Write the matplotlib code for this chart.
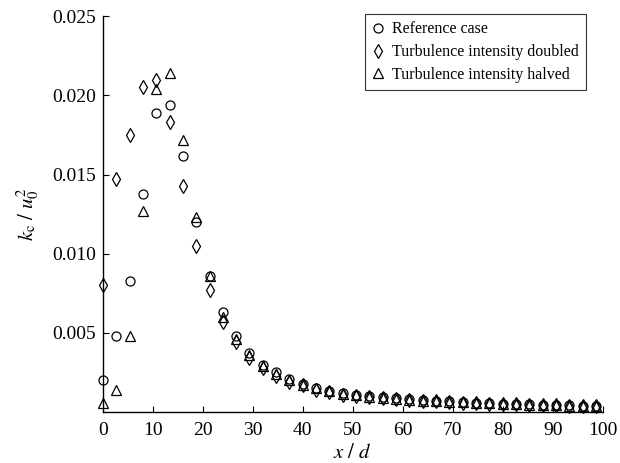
import numpy as np
import matplotlib
matplotlib.use('Agg')
import matplotlib.pyplot as plt

plt.rcParams['font.family'] = ['Liberation Serif', 'DejaVu Serif']
plt.rcParams['mathtext.fontset'] = 'stix'

# streamwise stations, x / d
x_d = [0.0, 2.67, 5.33, 8.0, 10.67, 13.33, 16.0, 18.67, 21.33, 24.0,
       26.67, 29.33, 32.0, 34.67, 37.33, 40.0, 42.67, 45.33, 48.0, 50.67,
       53.33, 56.0, 58.67, 61.33, 64.0, 66.67, 69.33, 72.0, 74.67, 77.33,
       80.0, 82.67, 85.33, 88.0, 90.67, 93.33, 96.0, 98.67]

# centreline turbulent kinetic energy, k_c / u0^2
k_ref = [0.0020, 0.0048, 0.0083, 0.0138, 0.0189, 0.0194, 0.0162, 0.0120, 0.0086, 0.0063,
         0.0048, 0.0037, 0.0030, 0.0025, 0.0021, 0.0018, 0.0015, 0.00135, 0.0012, 0.0011,
         0.00100, 0.00093, 0.00087, 0.00081, 0.00076, 0.00071, 0.00067, 0.00063, 0.00060, 0.00057,
         0.00054, 0.00051, 0.00049, 0.00047, 0.00045, 0.00043, 0.00041, 0.00039]
k_double = [0.0080, 0.0147, 0.0175, 0.0205, 0.0210, 0.0183, 0.0143, 0.0105, 0.0077, 0.0057,
            0.0044, 0.0034, 0.0028, 0.0023, 0.0019, 0.0017, 0.0014, 0.00125, 0.0011, 0.0010,
            0.00093, 0.00087, 0.00081, 0.00076, 0.00071, 0.00067, 0.00063, 0.00059, 0.00056, 0.00053,
            0.00050, 0.00048, 0.00046, 0.00044, 0.00042, 0.00040, 0.00038, 0.00036]
k_half = [0.0006, 0.0014, 0.0048, 0.0127, 0.0204, 0.0214, 0.0172, 0.0123, 0.0086, 0.0060,
          0.0046, 0.0036, 0.0029, 0.0024, 0.0020, 0.0017, 0.0015, 0.0013, 0.00115, 0.00105,
          0.00097, 0.00090, 0.00084, 0.00078, 0.00073, 0.00069, 0.00065, 0.00061, 0.00058, 0.00055,
          0.00052, 0.00050, 0.00047, 0.00045, 0.00043, 0.00041, 0.00039, 0.00037]

fig = plt.figure(figsize=(6.2, 4.63), dpi=100)
ax = fig.add_axes([0.166, 0.110, 0.806, 0.855])

style = dict(linestyle='none', markerfacecolor='none', markeredgecolor='black',
             markeredgewidth=0.9, clip_on=False)
ax.plot(x_d, k_ref, marker='o', markersize=6.5, label='Reference case', **style)
ax.plot(x_d, k_double, marker='d', markersize=7, label='Turbulence intensity doubled', **style)
ax.plot(x_d, k_half, marker='^', markersize=6.5, label='Turbulence intensity halved', **style)

ax.set_xlim(0, 100)
ax.set_ylim(0, 0.025)
ax.set_xticks(np.arange(0, 101, 10))
ax.set_yticks([0.005, 0.010, 0.015, 0.020, 0.025])
ax.set_yticklabels(['0.005', '0.010', '0.015', '0.020', '0.025'])
ax.tick_params(direction='in', length=4, width=0.8, labelsize=14)
ax.tick_params(axis='x', pad=7)
ax.tick_params(axis='y', pad=5)
for side in ['top', 'right']:
    ax.spines[side].set_visible(False)
for side in ['left', 'bottom']:
    ax.spines[side].set_linewidth(1.0)

ax.set_xlabel(r'$x\ /\ d$', fontsize=15, labelpad=4)
ax.set_ylabel(r'$k_{\mathrm{c}}\ /\ u_0^2$', fontsize=15, labelpad=8)

leg = ax.legend(loc='upper right', bbox_to_anchor=(0.966, 1.005), fontsize=11.5,
                frameon=True, fancybox=False, edgecolor='black', handlelength=0.7,
                handletextpad=0.5, borderpad=0.45, labelspacing=0.42, borderaxespad=0)
leg.get_frame().set_linewidth(0.8)

fig.savefig('out.png', dpi=100)
